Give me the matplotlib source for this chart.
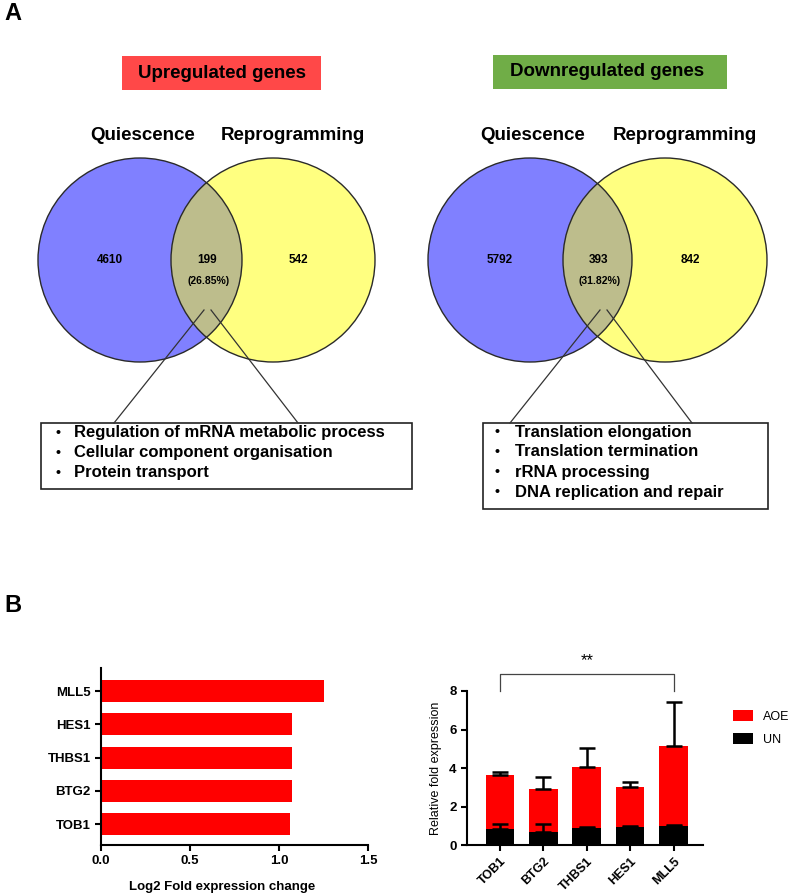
import matplotlib as mpl
import matplotlib.pyplot as plt
from matplotlib.patches import Circle, Rectangle
import numpy as np

plt.rc('font', family='Liberation Sans', weight='bold')
mpl.rcParams['axes.linewidth'] = 1.5

# ---- data ----
venn_sets = ['Quiescence', 'Reprogramming']
up_counts = [4610, 199, 542]
up_pct = '26.85%'
down_counts = [5792, 393, 842]
down_pct = '31.82%'
up_terms = ['Regulation of mRNA metabolic process',
            'Cellular component organisation',
            'Protein transport']
down_terms = ['Translation elongation', 'Translation termination',
              'rRNA processing', 'DNA replication and repair']

genes = ['TOB1', 'BTG2', 'THBS1', 'HES1', 'MLL5']
log2fc = [1.062, 1.075, 1.071, 1.071, 1.253]

aoe_mean = [3.64, 2.89, 4.05, 3.01, 5.16]
aoe_err = [0.13, 0.64, 1.01, 0.28, 2.25]
un_mean = [0.81, 0.69, 0.87, 0.95, 1.00]
un_err = [0.26, 0.40, 0.05, 0.05, 0.05]

BLUE = '#8080FF'
YELLOW = '#FFFF80'
LENS = '#BDBD8C'

fig = plt.figure(figsize=(7.89, 8.96), dpi=100)

# overlay axes in pixel coordinates for panel A
ax0 = fig.add_axes([0, 0, 1, 1])
ax0.set_xlim(0, 789)
ax0.set_ylim(896, 0)
ax0.axis('off')


def venn(ax, cx_b, cx_y, cy, r, counts, pct):
    blue = Circle((cx_b, cy), r, facecolor=BLUE, edgecolor='none')
    yel = Circle((cx_y, cy), r, facecolor=YELLOW, edgecolor='none')
    ax.add_patch(blue)
    ax.add_patch(yel)
    lens = Circle((cx_y, cy), r, facecolor=LENS, edgecolor='none')
    ax.add_patch(lens)
    lens.set_clip_path(blue)
    for c in (cx_b, cx_y):
        ax.add_patch(Circle((c, cy), r, facecolor='none', edgecolor='#2a2a2a', lw=1.0))
    mid = (cx_b + cx_y) / 2
    ax.text(cx_b - 30, cy, str(counts[0]), ha='center', va='center', fontsize=8.5)
    ax.text(mid + 1, cy, str(counts[1]), ha='center', va='center', fontsize=8.5)
    ax.text(mid + 2, cy + 21, f'({pct})', ha='center', va='center', fontsize=7.5)
    ax.text(cx_y + 25, cy, str(counts[2]), ha='center', va='center', fontsize=8.5)
    ax.text(cx_b + 3, 136, venn_sets[0], ha='center', va='center', fontsize=13.5)
    ax.text(cx_y + 20, 136, venn_sets[1], ha='center', va='center', fontsize=13.5)


ax0.text(4, 14, 'A', ha='left', va='center', fontsize=17)
ax0.text(4, 605, 'B', ha='left', va='center', fontsize=17)

# headers
ax0.add_patch(Rectangle((122, 56), 199, 34, facecolor='#FF4848', edgecolor='none'))
ax0.text(222, 73, 'Upregulated genes', ha='center', va='center', fontsize=13.5)
ax0.add_patch(Rectangle((493, 55), 234, 34, facecolor='#70AD47', edgecolor='none'))
ax0.text(607, 72, 'Downregulated genes', ha='center', va='center', fontsize=13.5)

venn(ax0, 140, 273, 260, 102, up_counts, up_pct)
venn(ax0, 530, 665, 260, 102, down_counts, down_pct)

# connector lines
ax0.plot([204, 114], [310, 423], color='#333333', lw=0.9)
ax0.plot([211, 298], [310, 423], color='#333333', lw=0.9)
ax0.plot([600, 510], [310, 423], color='#333333', lw=0.9)
ax0.plot([607, 692], [310, 423], color='#333333', lw=0.9)

# term boxes
ax0.add_patch(Rectangle((41, 423), 371, 66, facecolor='white', edgecolor='#222222', lw=1.2))
for i, t in enumerate(up_terms):
    y = 433 + i * 20
    ax0.text(58, y, '•', ha='center', va='center', fontsize=10)
    ax0.text(74, y, t, ha='left', va='center', fontsize=12)

ax0.add_patch(Rectangle((483, 423), 285, 86, facecolor='white', edgecolor='#222222', lw=1.2))
for i, t in enumerate(down_terms):
    y = 432 + i * 20
    ax0.text(497, y, '•', ha='center', va='center', fontsize=10)
    ax0.text(515, y, t, ha='left', va='center', fontsize=12)

# ---- panel B left: log2 fold change ----
ax1 = fig.add_axes([0.128, 0.0569, 0.3384, 0.1975])
ypos = np.arange(len(genes))
ax1.barh(ypos, log2fc, height=0.66, color='#FF0000')
ax1.set_yticks(ypos)
ax1.set_yticklabels(genes, fontsize=9.5)
ax1.set_ylim(-0.63, 4.69)
ax1.set_xlim(0, 1.5)
ax1.set_xticks([0, 0.5, 1.0, 1.5])
ax1.set_xticklabels(['0.0', '0.5', '1.0', '1.5'], fontsize=9.5)
ax1.spines['top'].set_visible(False)
ax1.spines['right'].set_visible(False)
ax1.tick_params(width=1.5, length=4)
ax1.text(0.453, -0.235, 'Log2 Fold expression change', transform=ax1.transAxes,
         ha='center', va='center', fontsize=9.5)

# ---- panel B right: relative fold expression ----
ax2 = fig.add_axes([0.5919, 0.0569, 0.2991, 0.1719])
xpos = np.arange(len(genes))
ax2.bar(xpos, aoe_mean, width=0.66, color='#FF0000', label='AOE',
        yerr=[np.zeros(len(genes)), aoe_err], capsize=6,
        error_kw=dict(ecolor='black', elinewidth=1.8, capthick=1.8))
ax2.bar(xpos, un_mean, width=0.66, color='black', label='UN',
        yerr=[np.zeros(len(genes)), un_err], capsize=6,
        error_kw=dict(ecolor='black', elinewidth=1.8, capthick=1.8))
ax2.set_xlim(-0.76, 4.68)
ax2.set_ylim(0, 8)
ax2.set_yticks([0, 2, 4, 6, 8])
ax2.tick_params(axis='y', labelsize=9.5, width=1.5, length=4)
ax2.tick_params(axis='x', labelsize=9, width=1.5, length=4)
ax2.set_xticks(xpos)
ax2.set_xticklabels(genes, rotation=45, ha='right', rotation_mode='anchor')
ax2.spines['top'].set_visible(False)
ax2.spines['right'].set_visible(False)
ax2.set_ylabel('Relative fold expression', fontsize=9, labelpad=5)

# significance bracket
ax2.plot([0, 0, 4, 4], [8.0, 8.9, 8.9, 8.0], color='#444444', lw=0.9, clip_on=False)
ax2.text(2, 9.2, '**', ha='center', va='bottom', fontsize=12, fontweight='normal')

ax2.legend(loc='upper left', bbox_to_anchor=(1.08, 0.95), frameon=False,
           prop={'size': 9, 'weight': 'normal'}, handlelength=1.6, handleheight=1.0,
           labelspacing=0.8)

fig.savefig('out.png', dpi=100)
